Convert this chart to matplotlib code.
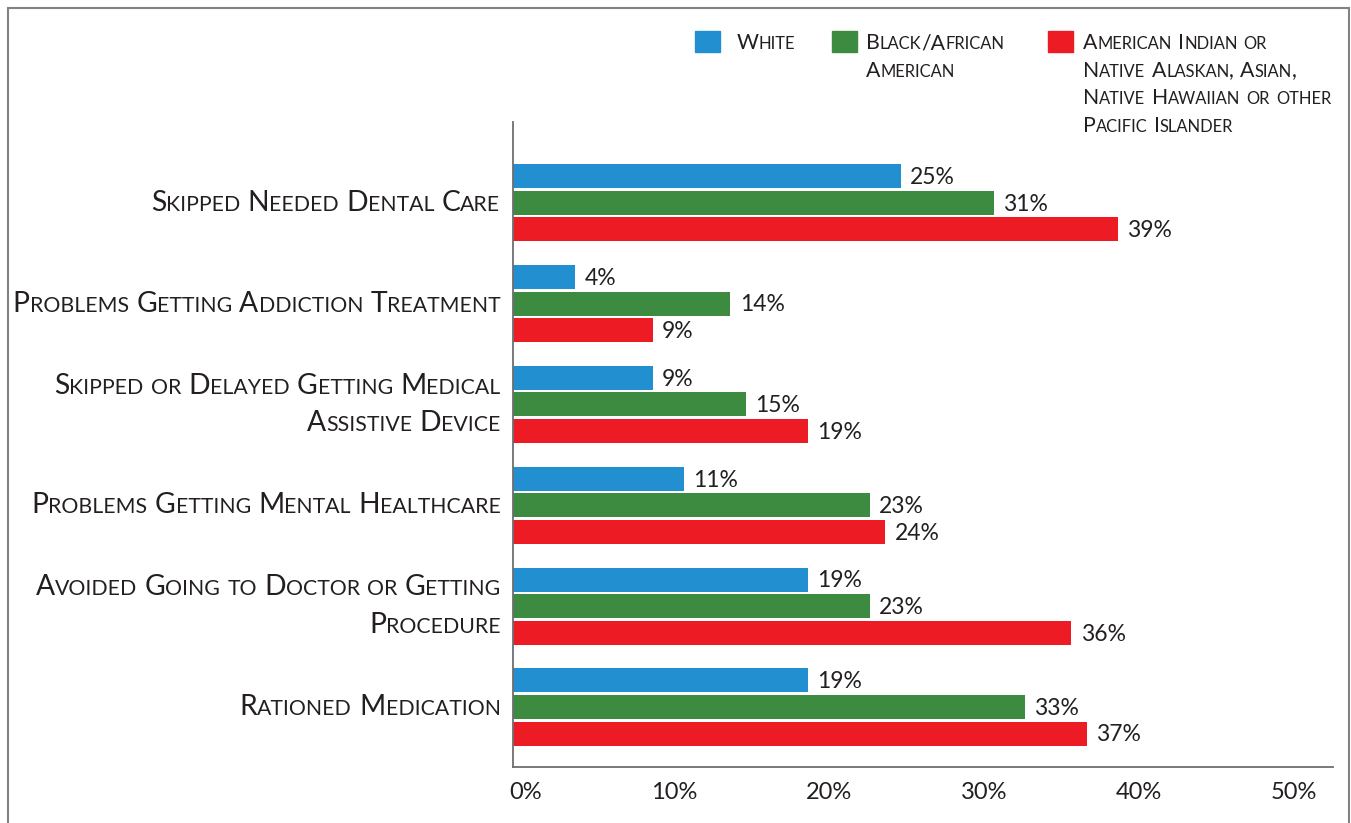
import matplotlib
matplotlib.use("Agg")
import matplotlib.pyplot as plt
import numpy as np
from matplotlib.offsetbox import TextArea, HPacker, VPacker, AnnotationBbox
from matplotlib.patches import Rectangle
from matplotlib.transforms import ScaledTranslation

# data
categories = ["Skipped Needed Dental Care",
              "Problems Getting Addiction Treatment",
              "Skipped or Delayed Getting Medical\nAssistive Device",
              "Problems Getting Mental Healthcare",
              "Avoided Going to Doctor or Getting\nProcedure",
              "Rationed Medication"]
series_names = ["White",
                "Black/African\nAmerican",
                "American Indian or\nNative Alaskan, Asian,\nNative Hawaiian or other\nPacific Islander"]
white = [25, 4, 9, 11, 19, 19]
black = [31, 14, 15, 23, 23, 33]
other = [39, 9, 19, 24, 36, 37]
ticks = [0, 10, 20, 30, 40, 50]

colors = ["#228fd1", "#3c8b40", "#ed1c24"]
txt_col = "#231f20"
FONT = "Lato"

W, H = 1351, 823
fig = plt.figure(figsize=(W / 100, H / 100), dpi=100)
ax = fig.add_axes([513 / W, 1 - 767 / H, (1333 - 513) / W, (767 - 122) / H])


def smallcaps(text, big, small, sep_word, sep_line, align):
    # fake small caps: lowercase letters drawn as smaller capitals
    lines = []
    for line in text.split("\n"):
        words = []
        for w in line.split(" "):
            runs = []
            cur, cur_small = "", None
            for ch in w:
                s = ch.islower()
                if cur and s != cur_small:
                    runs.append((cur, cur_small))
                    cur = ""
                cur += ch
                cur_small = s
            runs.append((cur, cur_small))
            kids = [TextArea(r.upper() if s else r,
                             textprops=dict(fontsize=small if s else big,
                                            color=txt_col, family=FONT))
                    for r, s in runs]
            words.append(HPacker(children=kids, align="baseline", pad=0, sep=0))
        lines.append(HPacker(children=words, align="baseline", pad=0, sep=sep_word))
    return VPacker(children=lines, align=align, pad=0, sep=sep_line)


y = np.arange(len(categories))
h = 0.238
off = 0.263
for vals, c, d in zip([white, black, other], colors, [-off, 0, off]):
    ax.barh(y + d, vals, height=h, color=c)
    for yi, v in zip(y + d, vals):
        ax.annotate(f"{v}%", (v, yi), xytext=(7, -1), textcoords="offset points",
                    va="center", ha="left", fontsize=16.5, color=txt_col,
                    family=FONT)

ax.set_xlim(0, (1333 - 513) / 15.5)
ax.set_ylim(5.595, -0.80)
ax.set_yticks([])
ax.set_xticks(ticks)
ax.set_xticklabels([f"{t}%" for t in ticks], fontsize=17, color=txt_col,
                   family=FONT)
ax.tick_params(axis="x", length=0, pad=11)
for lbl in ax.get_xticklabels():
    lbl.set_ha("right")
    lbl.set_transform(lbl.get_transform() + ScaledTranslation(0.29, 0, fig.dpi_scale_trans))
for s in ["top", "right"]:
    ax.spines[s].set_visible(False)
for s in ["left", "bottom"]:
    ax.spines[s].set_color("#6d6e71")
    ax.spines[s].set_linewidth(1.3)

# category labels
for i, cat in enumerate(categories):
    box = smallcaps(cat, 20.3, 15.3, 5.2, 8.5, "right")
    ab = AnnotationBbox(box, (0, i), xybox=(-9, 0), xycoords=ax.get_yaxis_transform(),
                        boxcoords="offset points", box_alignment=(1, 0.5),
                        frameon=False, pad=0, annotation_clip=False)
    ax.add_artist(ab)

# legend
legend_x = [(695, 737), (832, 866), (1048, 1083)]
for (px, tx), name, c in zip(legend_x, series_names, colors):
    fig.add_artist(Rectangle((px / W, 1 - 52 / H), 25 / W, 21 / H, color=c,
                             transform=fig.transFigure))
    box = smallcaps(name, 15.3, 11.9, 4.5, 5.5, "left")
    ab = AnnotationBbox(box, (tx, H - 33), xycoords="figure pixels",
                        box_alignment=(0, 1), frameon=False, pad=0,
                        annotation_clip=False)
    ax.add_artist(ab)

# outer frame
fig.add_artist(Rectangle((8 / W, -0.1), (1349 - 8) / W, 1.1 - 8 / H, fill=False,
                         edgecolor="#808285", lw=1.5, transform=fig.transFigure))

fig.savefig("out.png", dpi=100)
